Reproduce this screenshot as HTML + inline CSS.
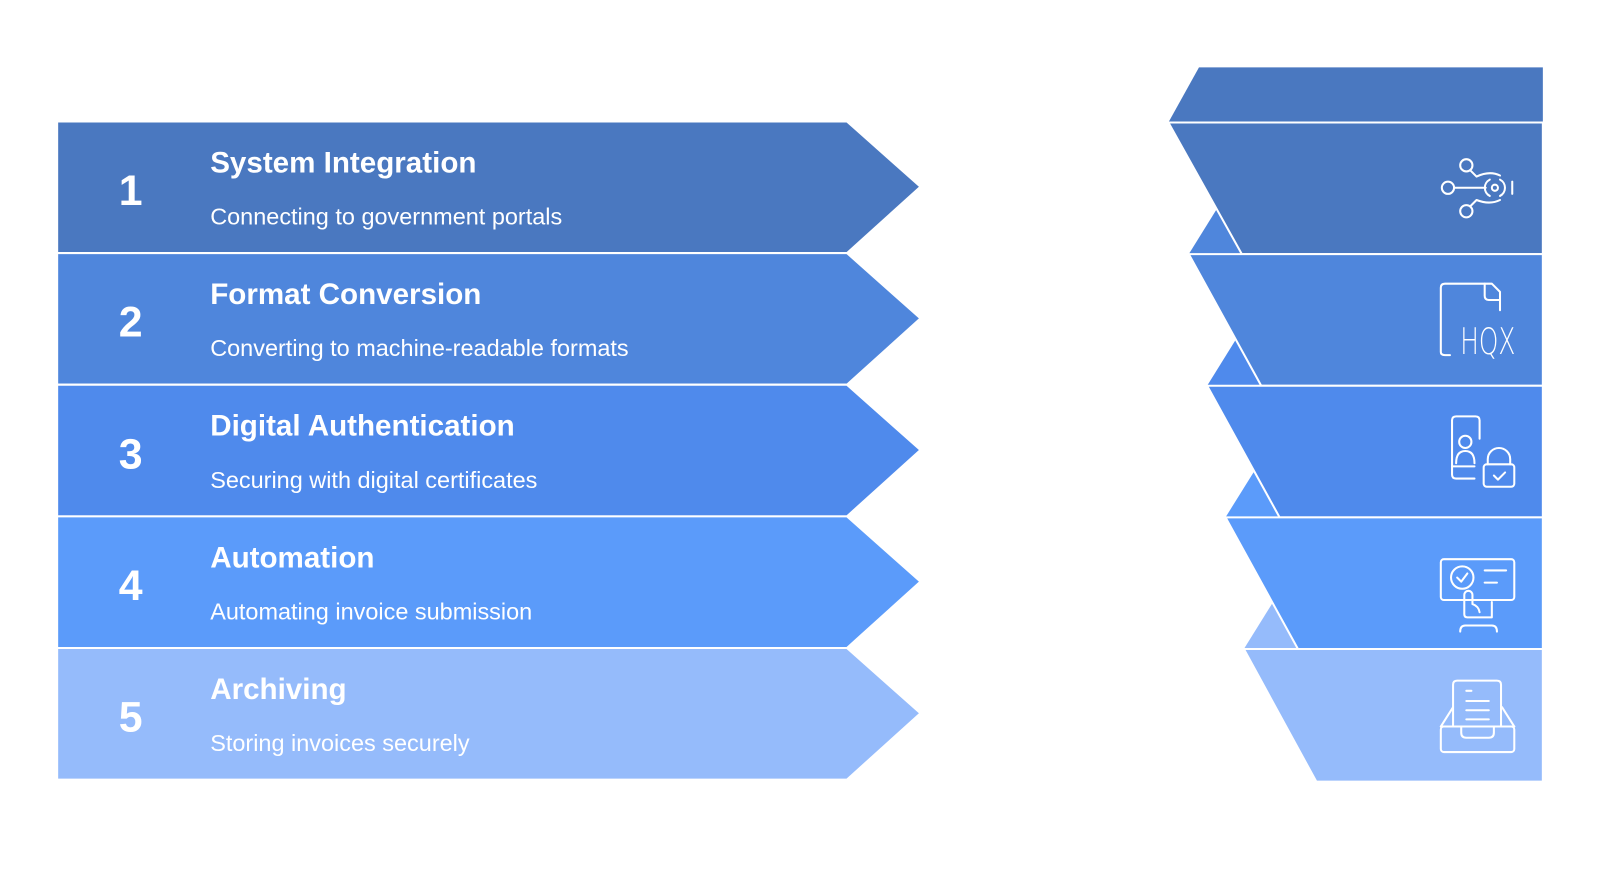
<!DOCTYPE html>
<html><head><meta charset="utf-8"><style>
html,body{margin:0;padding:0;background:#fff;width:1600px;height:869px;overflow:hidden}
svg{display:block}
text{font-family:"Liberation Sans",sans-serif;fill:#fff}
.n{font-size:42px;font-weight:bold;text-anchor:middle}
.t{font-size:29px;font-weight:bold}
.s{font-size:23px}
.ic{fill:none;stroke:#fff;stroke-width:2;stroke-linecap:round;stroke-linejoin:round}
</style></head><body>
<svg width="1600" height="869" viewBox="0 0 1568 851.6">
<g stroke="#fff" stroke-width="2">
<polygon points="56,119 830,119 902,183 830,248 56,248" fill="#4a78c0"/>
<polygon points="56,248 830,248 902,312 830,377 56,377" fill="#4f86dc"/>
<polygon points="56,377 830,377 902,441 830,506 56,506" fill="#4f8aec"/>
<polygon points="56,506 830,506 902,570 830,635 56,635" fill="#5b9bfa"/>
<polygon points="56,635 830,635 902,699 830,764 56,764" fill="#95bbfb"/>
</g>
<text class="n" x="128" y="201">1</text>
<text class="t" x="206" y="169">System Integration</text>
<text class="s" x="206" y="220">Connecting to government portals</text>
<text class="n" x="128" y="330">2</text>
<text class="t" x="206" y="298">Format Conversion</text>
<text class="s" x="206" y="349">Converting to machine-readable formats</text>
<text class="n" x="128" y="459">3</text>
<text class="t" x="206" y="427">Digital Authentication</text>
<text class="s" x="206" y="478">Securing with digital certificates</text>
<text class="n" x="128" y="588">4</text>
<text class="t" x="206" y="556">Automation</text>
<text class="s" x="206" y="607">Automating invoice submission</text>
<text class="n" x="128" y="717">5</text>
<text class="t" x="206" y="685">Archiving</text>
<text class="s" x="206" y="736">Storing invoices securely</text>
<polygon points="1175,66 1512,66 1512,120 1145,120" fill="#4a78c0"/>
<polygon points="1165,249 1193,204 1220,249" fill="#4f86dc"/>
<polygon points="1183,378 1211,333 1238,378" fill="#4f8aec"/>
<polygon points="1201,507 1229,462 1256,507" fill="#5b9bfa"/>
<polygon points="1219,636 1247,591 1274,636" fill="#95bbfb"/>
<g stroke="#fff" stroke-width="2">
<polygon points="1145,120 1512,120 1512,249 1217,249" fill="#4a78c0"/>
<polygon points="1165,249 1512,249 1512,378 1236,378" fill="#4f86dc"/>
<polygon points="1183,378 1512,378 1512,507 1254,507" fill="#4f8aec"/>
<polygon points="1201,507 1512,507 1512,636 1272,636" fill="#5b9bfa"/>
<polygon points="1219,636 1512,636 1512,766 1290,766" fill="#95bbfb"/>
</g>
<g class="ic">
<circle cx="1437" cy="162" r="6"/><circle cx="1419" cy="184" r="6"/><circle cx="1437" cy="207" r="6"/>
<line x1="1425" y1="184" x2="1456" y2="184"/><circle cx="1465" cy="184" r="3"/>
<path d="M1441,167 L1447,173 Q1460,167 1470,172"/><path d="M1441,202 L1447,196 Q1460,201 1470,196"/>
<path d="M1460,176 A9,9 0 0 0 1460,192"/><path d="M1470,176 A9,9 0 0 1 1470,192"/><line x1="1482" y1="178" x2="1482" y2="190"/>
<path d="M1470,304 L1470,286 L1462,278 L1416,278 Q1412,278 1412,282 L1412,345 Q1412,348 1416,348 L1421,348"/>
<path d="M1455,278 L1455,290 Q1455,294 1459,294 L1470,294"/>
<path d="M1423,412 Q1423,408 1427,408 L1446,408 Q1450,408 1450,412 L1450,430"/>
<path d="M1423,412 L1423,465 Q1423,469 1427,469 L1445,469"/><line x1="1423" y1="457" x2="1445" y2="457"/>
<circle cx="1436" cy="433" r="6"/><path d="M1427,454 Q1427,442 1436,442 Q1445,442 1445,454"/>
<rect x="1454" y="455" width="30" height="22" rx="3"/><path d="M1458,455 L1458,450 A11,11 0 0 1 1480,450 L1480,455"/>
<path d="M1464,466 L1468,470 L1475,463"/>
<rect x="1412" y="548" width="72" height="40" rx="3"/><circle cx="1433" cy="566" r="11"/><path d="M1428,566 L1432,570 L1438,562"/>
<line x1="1455" y1="559" x2="1476" y2="559"/><line x1="1455" y1="571" x2="1467" y2="571"/>
<path d="M1435,588 L1435,602 Q1435,605 1438,605 L1462,605 L1462,590"/><path d="M1435,588 L1435,583 A4,4 0 0 1 1443,583 L1443,592 Q1449,594 1450,600"/>
<path d="M1431,619 Q1431,613 1436,613 L1462,613 Q1467,613 1467,619"/>
<rect x="1412" y="712" width="72" height="25" rx="3"/><path d="M1412,712 L1424,693 M1484,712 L1472,693"/>
<path d="M1424,712 L1424,671 Q1424,667 1428,667 L1467,667 Q1471,667 1471,671 L1471,712"/>
<path d="M1412,712 L1432,712 L1432,718 Q1432,723 1437,723 L1459,723 Q1464,723 1464,718 L1464,712 L1484,712"/>
<line x1="1437" y1="677" x2="1442" y2="677"/><line x1="1437" y1="687" x2="1459" y2="687"/><line x1="1437" y1="696" x2="1459" y2="696"/><line x1="1437" y1="705" x2="1459" y2="705"/>
</g>
<text x="1431" y="347" style="font-size:36px;fill:#fff;font-family:'DejaVu Sans',sans-serif;font-weight:200" textLength="54" lengthAdjust="spacingAndGlyphs">HQX</text>
</svg>
</body></html>
